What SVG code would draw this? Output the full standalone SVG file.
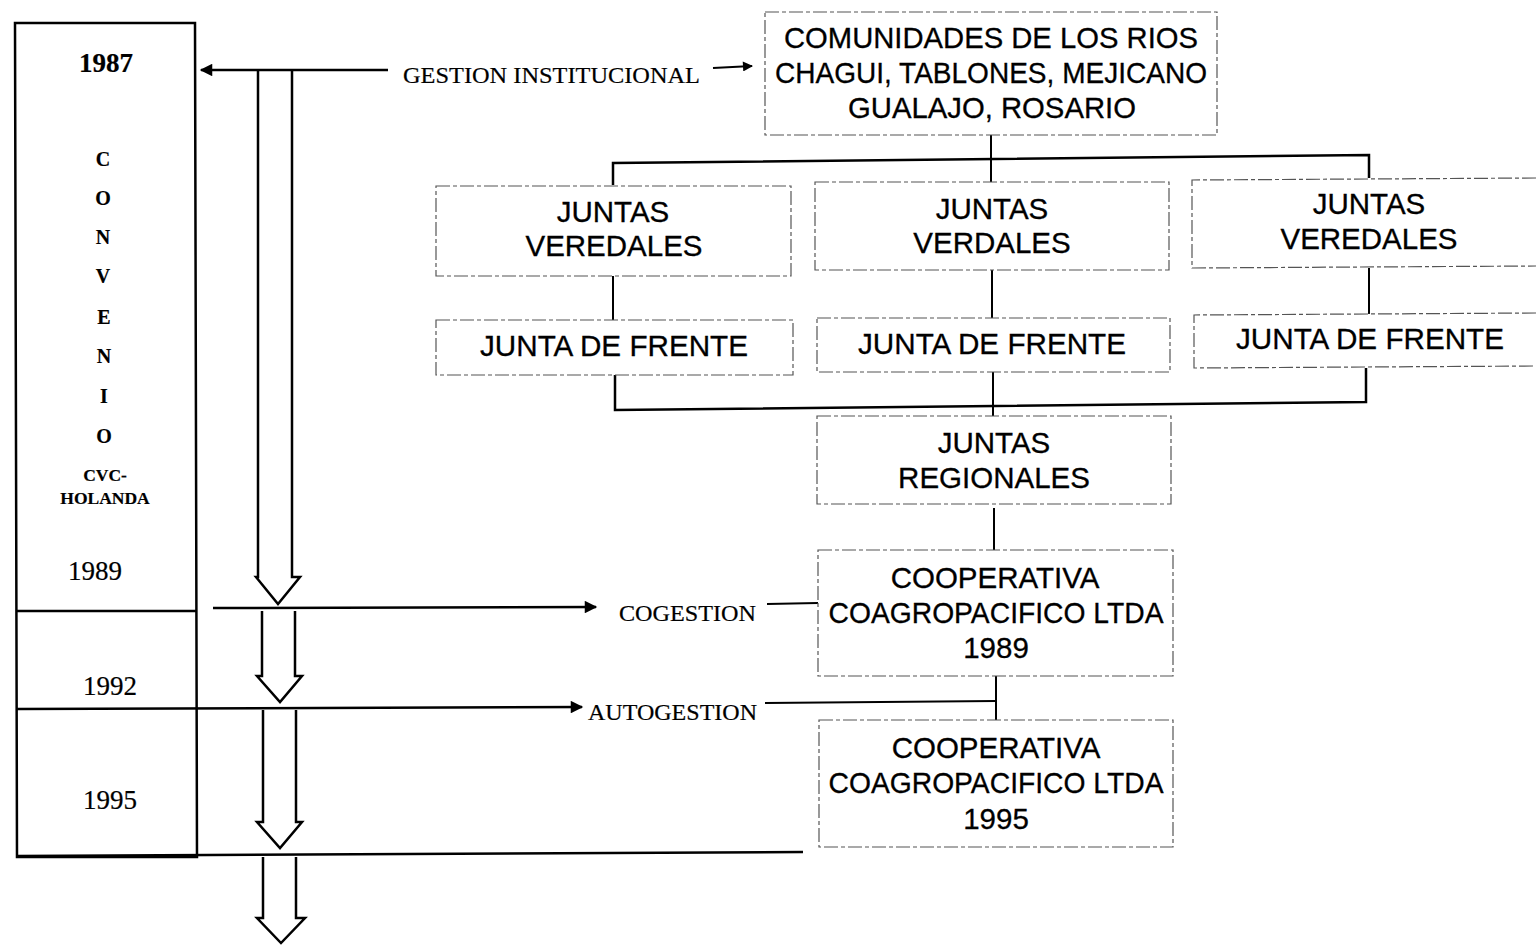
<svg xmlns="http://www.w3.org/2000/svg" width="1536" height="945" viewBox="0 0 1536 945">
<defs>
<marker id="ah" viewBox="0 0 10 10" refX="9" refY="5" markerWidth="5" markerHeight="5" orient="auto-start-reverse" markerUnits="strokeWidth">
<path d="M0,0 L10,5 L0,10 Z" fill="#000"/>
</marker>
<marker id="ah2" viewBox="0 0 10 10" refX="9" refY="5" markerWidth="6" markerHeight="5" orient="auto" markerUnits="strokeWidth">
<path d="M0,0 L10,5 L0,10 Z" fill="#000"/>
</marker>
</defs>
<style>
.box{fill:#fff;stroke:#555;stroke-width:1.2;stroke-dasharray:14 3 4 3}
.sans{font-family:"Liberation Sans",Arial,sans-serif;font-size:29.5px;fill:#000;stroke:#000;stroke-width:0.3;text-anchor:middle}
.serif{font-family:"Liberation Serif","Times New Roman",serif;fill:#000;stroke:#000;stroke-width:0.2}
.bold{font-weight:bold;text-anchor:middle}
.ln{fill:none;stroke:#000;stroke-width:2.5}
.thin{fill:none;stroke:#000;stroke-width:2}
.hollow{fill:#fff;stroke:#000;stroke-width:2.5;stroke-linejoin:miter}
</style>
<rect width="1536" height="945" fill="#fff"/>

<g id="convenio">
<path class="ln" d="M15,23 L195,23 L197,857 L17,857 Z" stroke-width="3"/>
<line class="ln" x1="17" y1="611" x2="197" y2="611"/>
<text class="serif bold" x="106" y="72" font-size="27">1987</text>
<text class="serif bold" x="103" y="166" font-size="20">C</text>
<text class="serif bold" x="103" y="205" font-size="20">O</text>
<text class="serif bold" x="103" y="244" font-size="20">N</text>
<text class="serif bold" x="103" y="283" font-size="20">V</text>
<text class="serif bold" x="104" y="324" font-size="20">E</text>
<text class="serif bold" x="104" y="363" font-size="20">N</text>
<text class="serif bold" x="104" y="403" font-size="20">I</text>
<text class="serif bold" x="104" y="443" font-size="20">O</text>
<text class="serif bold" x="105" y="481" font-size="17.5">CVC-</text>
<text class="serif bold" x="105" y="504" font-size="17.5">HOLANDA</text>
<text class="serif" x="95" y="580" font-size="27" text-anchor="middle">1989</text>
<text class="serif" x="110" y="695" font-size="27" text-anchor="middle">1992</text>
<text class="serif" x="110" y="809" font-size="27" text-anchor="middle">1995</text>
</g>

<g id="timeline-arrows">
<path class="hollow" d="M258,70 L258,577 L256,577 L278,604 L300,577 L292,577 L292,70"/>
<path class="hollow" d="M262,611 L262,676 L257,676 L280,702 L302,676 L295,676 L295,611"/>
<path class="hollow" d="M263,710 L263,822 L257,822 L280,848 L302,822 L296,822 L296,710"/>
<path class="hollow" d="M263,857 L263,918 L257,918 L281,943 L305,918 L296,918 L296,857"/>
</g>

<g id="connectors">
<line class="ln" x1="388" y1="70" x2="201" y2="70" marker-end="url(#ah2)"/>
<line class="thin" x1="713" y1="68" x2="752" y2="66" marker-end="url(#ah2)"/>
<line class="ln" x1="213" y1="608" x2="596" y2="607" marker-end="url(#ah2)"/>
<line class="ln" x1="17" y1="709" x2="582" y2="707" marker-end="url(#ah2)"/>
<line class="ln" x1="17" y1="856" x2="803" y2="852"/>
<line class="thin" x1="767" y1="604" x2="818" y2="603"/>
<line class="thin" x1="765" y1="703" x2="996" y2="701"/>
<line class="thin" x1="996" y1="676" x2="996" y2="720"/>
<line class="thin" x1="991" y1="135" x2="991" y2="182"/>
<polyline class="ln" points="613,185 613,163 1369,155 1369,178"/>
<line class="thin" x1="613" y1="276" x2="613" y2="320"/>
<line class="thin" x1="992" y1="270" x2="992" y2="318"/>
<line class="thin" x1="1369" y1="268" x2="1369" y2="315"/>
<polyline class="ln" points="615,375 615,410 1366,402 1366,368"/>
<line class="thin" x1="993" y1="372" x2="993" y2="416"/>
<line class="thin" x1="994" y1="508" x2="994" y2="550"/>
</g>

<g id="labels">
<text class="serif" x="403" y="83" font-size="24" textLength="297" lengthAdjust="spacingAndGlyphs">GESTION INSTITUCIONAL</text>
<text class="serif" x="619" y="621" font-size="23" textLength="137" lengthAdjust="spacingAndGlyphs">COGESTION</text>
<text class="serif" x="588" y="720" font-size="23" textLength="169" lengthAdjust="spacingAndGlyphs">AUTOGESTION</text>
</g>

<g id="comunidades">
<rect class="box" x="765" y="12" width="452" height="123"/>
<text class="sans" x="991" y="48" font-size="27" textLength="414" lengthAdjust="spacingAndGlyphs">COMUNIDADES DE LOS RIOS</text>
<text class="sans" x="991" y="83" font-size="27" textLength="432" lengthAdjust="spacingAndGlyphs">CHAGUI, TABLONES, MEJICANO</text>
<text class="sans" x="992" y="118" font-size="27" textLength="288" lengthAdjust="spacingAndGlyphs">GUALAJO, ROSARIO</text>
</g>

<g id="juntas-veredales-1">
<rect class="box" x="436" y="186" width="355" height="90"/>
<text class="sans" x="613" y="222">JUNTAS</text>
<text class="sans" x="614" y="256">VEREDALES</text>
</g>
<g id="juntas-verdales-2">
<rect class="box" x="815" y="182" width="354" height="88"/>
<text class="sans" x="992" y="219">JUNTAS</text>
<text class="sans" x="992" y="253">VERDALES</text>
</g>
<g id="juntas-veredales-3">
<path class="box" d="M1536,178 L1192,180 L1192,268 L1536,266"/>
<text class="sans" x="1369" y="214">JUNTAS</text>
<text class="sans" x="1369" y="249">VEREDALES</text>
</g>

<g id="junta-frente-1">
<rect class="box" x="436" y="320" width="357" height="55"/>
<text class="sans" x="614" y="356" textLength="268" lengthAdjust="spacingAndGlyphs">JUNTA DE FRENTE</text>
</g>
<g id="junta-frente-2">
<rect class="box" x="817" y="318" width="353" height="54"/>
<text class="sans" x="992" y="354" textLength="268" lengthAdjust="spacingAndGlyphs">JUNTA DE FRENTE</text>
</g>
<g id="junta-frente-3">
<path class="box" d="M1536,313 L1194,315 L1194,368 L1536,366"/>
<text class="sans" x="1370" y="349" textLength="268" lengthAdjust="spacingAndGlyphs">JUNTA DE FRENTE</text>
</g>

<g id="juntas-regionales">
<rect class="box" x="817" y="416" width="354" height="88"/>
<text class="sans" x="994" y="453">JUNTAS</text>
<text class="sans" x="994" y="488">REGIONALES</text>
</g>

<g id="cooperativa-1989">
<rect class="box" x="818" y="550" width="355" height="126"/>
<text class="sans" x="995" y="588">COOPERATIVA</text>
<text class="sans" x="996" y="623" textLength="335" lengthAdjust="spacingAndGlyphs">COAGROPACIFICO LTDA</text>
<text class="sans" x="996" y="658">1989</text>
</g>

<g id="cooperativa-1995">
<rect class="box" x="819" y="720" width="354" height="127"/>
<text class="sans" x="996" y="758">COOPERATIVA</text>
<text class="sans" x="996" y="793" textLength="335" lengthAdjust="spacingAndGlyphs">COAGROPACIFICO LTDA</text>
<text class="sans" x="996" y="829">1995</text>
</g>
</svg>
